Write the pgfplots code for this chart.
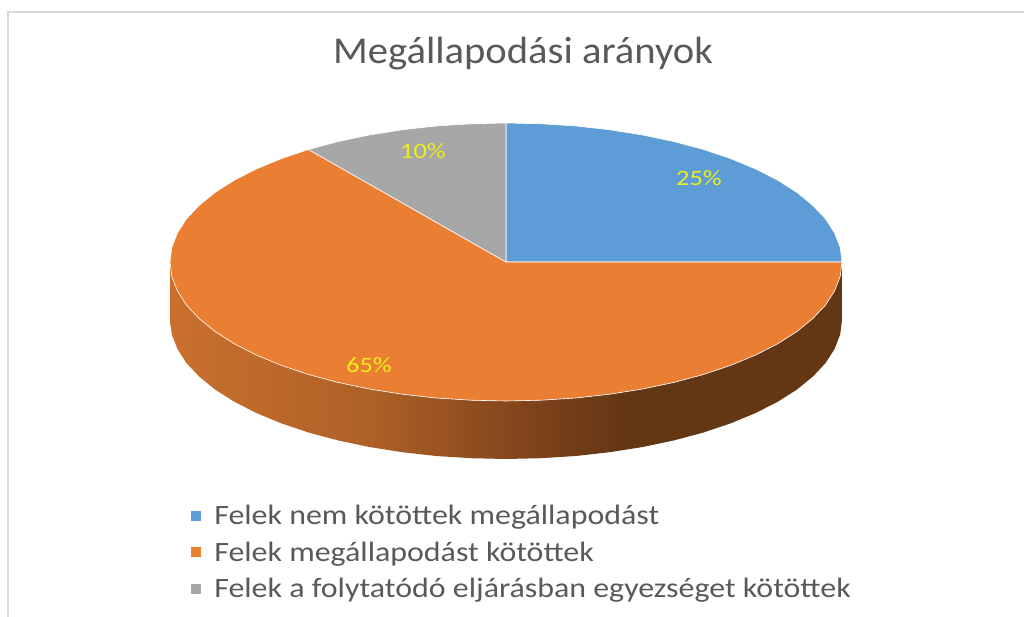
\documentclass[border=0pt]{standalone}
\usepackage{fontspec}
\setmainfont{Carlito}
\newfontfamily\widefont[FakeStretch=1.14]{Carlito}
\newfontfamily\titlefont[FakeStretch=1.07]{Carlito}
\newfontfamily\labfont[FakeStretch=1.2]{Carlito}
\usepackage{pgfplots}
\pgfplotsset{compat=1.18}
\definecolor{pblue}{RGB}{93,156,213}
\definecolor{porange}{RGB}{234,127,52}
\definecolor{pgrey}{RGB}{167,167,167}
\definecolor{ttext}{RGB}{89,89,89}
\definecolor{lab}{RGB}{238,238,30}
\pgfdeclarehorizontalshading{wall}{100bp}{
  rgb(0bp)=(0.79,0.44,0.18);
  rgb(25bp)=(0.79,0.44,0.18);
  rgb(40bp)=(0.68,0.38,0.15);
  rgb(51bp)=(0.51,0.27,0.11);
  rgb(59bp)=(0.39,0.21,0.08);
  rgb(75bp)=(0.39,0.21,0.08);
  rgb(100bp)=(0.39,0.21,0.08)}
\begin{document}
\begin{tikzpicture}
\path (0,0) rectangle (1024pt,617pt);
\begin{axis}[
  at={(0,0)}, anchor=south west,
  scale only axis, width=1024pt, height=617pt,
  xmin=0, xmax=1024, ymin=0, ymax=617, y dir=reverse,
  axis lines=none, clip=true,
  legend style={at={(axis cs:187,501)}, anchor=north west, draw=none, fill=none,
    font=\widefont\fontsize{28}{30}\selectfont\color{ttext},
    row sep=11.5pt, /tikz/every odd column/.append style={column sep=10.5pt}},
  legend cell align=left,
  legend image code/.code={\fill[#1] (0pt,-5.5pt) rectangle (11pt,5.5pt);},
]
% frame
\addplot[forget plot, color=black!15, line width=2pt] coordinates {(8,617) (8,12) (1024,12)};
% side wall
\addplot[forget plot, draw=none, shading=wall] coordinates {
(842,262) (840.2,276.5) (834.6,290.9) (825.6,305) (812.9,318.5) (797,331.5) (777.8,343.7) (755.7,355) (730.8,365.3) (703.5,374.5) (674,382.4) (642.7,389) (609.8,394.2) (575.9,398) (541.1,400.2) (506,401)
(470.9,400.2) (436.1,398) (402.2,394.2) (369.3,389) (338,382.4) (308.5,374.5) (281.2,365.3) (256.3,355) (234.2,343.7) (215,331.5) (199.1,318.5) (186.4,305) (177.4,290.9) (171.8,276.5) (170,262)
(170,320) (171.8,334.5) (177.4,348.9) (186.4,363) (199.1,376.5) (215,389.5) (234.2,401.7) (256.3,413) (281.2,423.3) (308.5,432.5) (338,440.4) (369.3,447) (402.2,452.2) (436.1,456) (470.9,458.2) (506,459)
(541.1,458.2) (575.9,456) (609.8,452.2) (642.7,447) (674,440.4) (703.5,432.5) (730.8,423.3) (755.7,413) (777.8,401.7) (797,389.5) (812.9,376.5) (825.6,363) (834.6,348.9) (840.2,334.5) (842,320)
} -- cycle;
% top slices
\addplot[draw=white, line width=0.6pt, fill=pblue] coordinates {
(506,262) (506,123) (541.1,123.8) (575.9,126) (609.8,129.8) (642.7,135) (674,141.6) (703.5,149.5) (730.8,158.7) (755.7,169) (777.8,180.3) (797,192.5) (812.9,205.5) (825.6,219) (834.6,233.1) (840.2,247.5) (842,262)
} -- cycle;
\addlegendentry{Felek nem kötöttek megállapodást}
\addplot[draw=white, line width=0.6pt, fill=porange] coordinates {
(506,262) (842,262) (840.2,276.5) (834.6,290.9) (825.6,305) (812.9,318.5) (797,331.5) (777.8,343.7) (755.7,355) (730.8,365.3) (703.5,374.5) (674,382.4) (642.7,389) (609.8,394.2) (575.9,398) (541.1,400.2) (506,401)
(470.9,400.2) (436.1,398) (402.2,394.2) (369.3,389) (338,382.4) (308.5,374.5) (281.2,365.3) (256.3,355) (234.2,343.7) (215,331.5) (199.1,318.5) (186.4,305) (177.4,290.9) (171.8,276.5) (170,262)
(171.8,247.5) (177.4,233.1) (186.4,219) (199.1,205.5) (215,192.5) (234.2,180.3) (256.3,169) (281.2,158.7) (308.5,149.5)
} -- cycle;
\addlegendentry{Felek megállapodást kötöttek}
\addplot[draw=white, line width=0.6pt, fill=pgrey] coordinates {
(506,262) (308.5,149.5) (338,141.6) (369.3,135) (402.2,129.8) (436.1,126) (470.9,123.8) (506,123)
} -- cycle;
\addlegendentry{Felek a folytatódó eljárásban egyezséget kötöttek}
% data labels
\addplot[forget plot, only marks, mark size=0pt, point meta=explicit symbolic,
  nodes near coords, nodes near coords align=center,
  every node near coord/.append style={text=lab, font=\labfont\fontsize{22}{24}\selectfont}]
  coordinates {(699,178)[25\%] (369,365)[65\%] (423,151)[10\%]};
% title
\node[text=ttext, font=\titlefont\fontsize{38}{42}\selectfont] at (axis cs:523,54) {Megállapodási arányok};
\end{axis}
\end{tikzpicture}
\end{document}
